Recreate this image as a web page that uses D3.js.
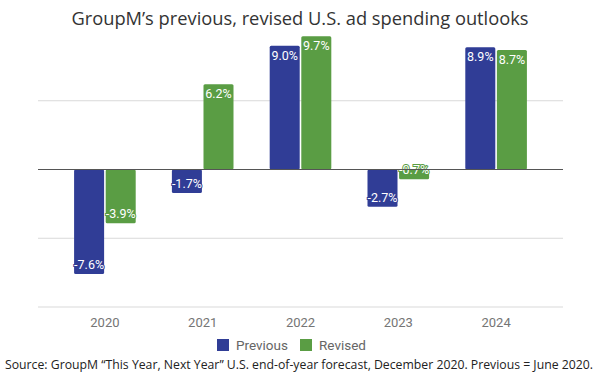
<!DOCTYPE html>
<html>
<head>
<meta charset="utf-8">
<script src="https://cdn.jsdelivr.net/npm/d3@7"></script>
<style>
  body { margin: 0; background: #fff; }
  svg { display: block; }
</style>
</head>
<body>
<div id="chart"></div>
<script>
// *** DATA ***
let years = ["2020", "2021", "2022", "2023", "2024"];
let seriesNames = ["Previous", "Revised"];
let previous = [-7.6, -1.7, 9.0, -2.7, 8.9];
let revised = [-3.9, 6.2, 9.7, -0.7, 8.7];
let gridTicks = [-10, -5, 5];

// *** SETTINGS ***
let width = 600, height = 375;
let colors = {Previous: "#303d96", Revised: "#5a9d44"};
let plotLeft = 38, plotRight = 563;

let svg = d3.select("#chart").append("svg")
  .attr("width", width)
  .attr("height", height);

let rows = years.map((y, i) => ({year: y, Previous: previous[i], Revised: revised[i]}));

//Scales
let x0 = d3.scaleBand()
  .domain(years)
  .range([56, 545])
  .paddingInner(0.37)
  .paddingOuter(0.185);

let x1 = d3.scaleBand()
  .domain(seriesNames)
  .range([0, x0.bandwidth()])
  .paddingInner(0.05);

let y = d3.scaleLinear()
  .domain([-10, 10])
  .range([307, 32]);

//Title
svg.append("text")
  .attr("x", width / 2)
  .attr("y", 25)
  .attr("text-anchor", "middle")
  .style("font-family", "'Open Sans', sans-serif")
  .style("font-size", "18.3px")
  .style("fill", "#333")
  .text("GroupM\u2019s previous, revised U.S. ad spending outlooks");

//Gridlines
svg.append("g").selectAll("line")
  .data(gridTicks)
  .enter()
  .append("line")
    .attr("x1", plotLeft)
    .attr("x2", plotRight)
    .attr("y1", d => y(d))
    .attr("y2", d => y(d))
    .style("stroke", "#d9d9d9")
    .style("stroke-width", 1.2);

//Bars
let groups = svg.append("g").selectAll("g")
  .data(rows)
  .enter()
  .append("g")
    .attr("transform", d => "translate(" + x0(d.year) + ",0)");

groups.selectAll("rect")
  .data(d => seriesNames.map(k => ({key: k, value: d[k]})))
  .enter()
  .append("rect")
    .attr("x", d => x1(d.key))
    .attr("y", d => y(Math.max(0, d.value)))
    .attr("width", x1.bandwidth())
    .attr("height", d => Math.abs(y(d.value) - y(0)))
    .attr("rx", 1.5)
    .attr("fill", d => colors[d.key]);

//Zero line
svg.append("line")
  .attr("x1", plotLeft)
  .attr("x2", plotRight)
  .attr("y1", y(0))
  .attr("y2", y(0))
  .style("stroke", "#555")
  .style("stroke-width", 1.2);

//Value labels
groups.selectAll("text")
  .data(d => seriesNames.map(k => ({key: k, value: d[k]})))
  .enter()
  .append("text")
    .attr("x", d => x1(d.key) + x1.bandwidth() / 2)
    .attr("y", d => d.value >= 0 ? y(d.value) + 14 : y(d.value) - 5)
    .attr("text-anchor", "middle")
    .style("font-family", "Roboto, sans-serif")
    .style("font-size", "12.5px")
    .style("fill", "#fff")
    .style("stroke", d => colors[d.key])
    .style("stroke-width", 2)
    .style("paint-order", "stroke")
    .text(d => d.value.toFixed(1) + "%");

//X axis labels
svg.append("g").selectAll("text")
  .data(years)
  .enter()
  .append("text")
    .attr("x", d => x0(d) + x0.bandwidth() / 2)
    .attr("y", 327)
    .attr("text-anchor", "middle")
    .style("font-family", "Roboto, sans-serif")
    .style("font-size", "13px")
    .style("fill", "#757575")
    .text(d => d);

//Legend
let legendX = [217, 300];
let legend = svg.append("g").selectAll("g")
  .data(seriesNames)
  .enter()
  .append("g")
    .attr("transform", (d, i) => "translate(" + legendX[i] + ",339)");

legend.append("rect")
  .attr("width", 12)
  .attr("height", 12)
  .attr("fill", d => colors[d]);

legend.append("text")
  .attr("x", 19)
  .attr("y", 11)
  .style("font-family", "Roboto, sans-serif")
  .style("font-size", "13.5px")
  .style("fill", "#666")
  .text(d => d);

//Footnote
svg.append("text")
  .attr("x", 5)
  .attr("y", 369)
  .style("font-family", "'Open Sans', sans-serif")
  .style("font-size", "12.25px")
  .style("fill", "#222")
  .text("Source: GroupM \u201CThis Year, Next Year\u201D U.S. end-of-year forecast, December 2020. Previous = June 2020.");
</script>
</body>
</html>
